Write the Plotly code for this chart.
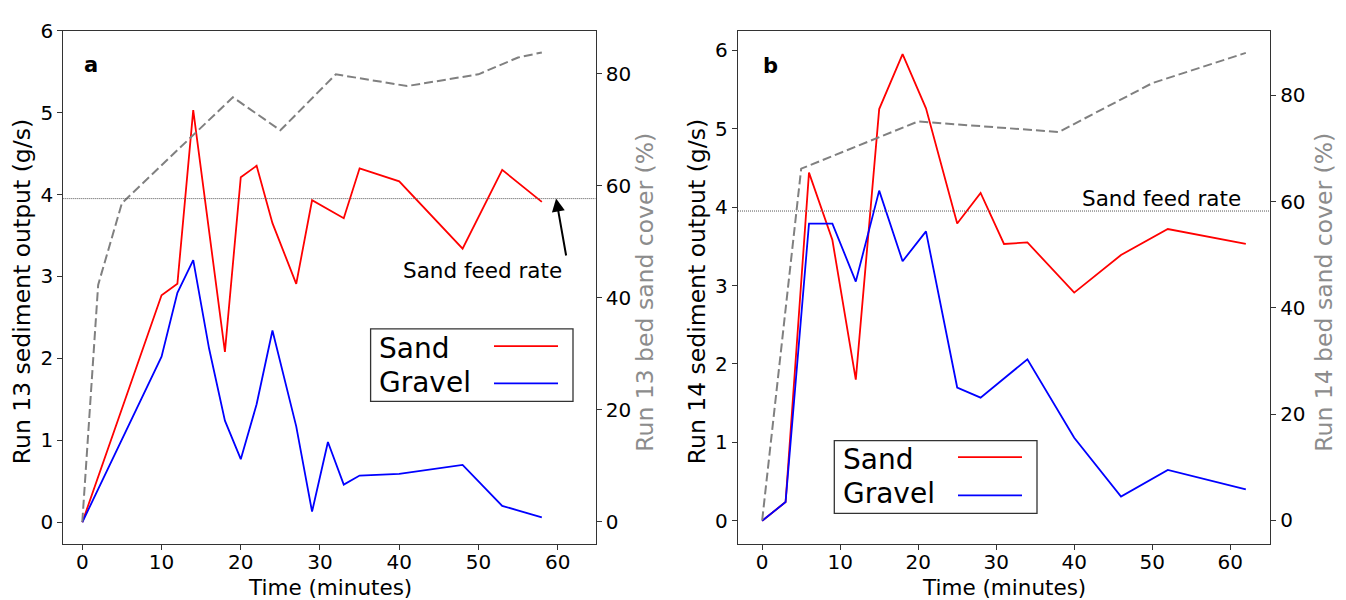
import plotly.graph_objects as go

# ---------------- Data: Run 13 (panel a) ----------------
t13 = [0, 10, 12, 14, 18, 20, 22, 24, 27, 29, 33, 35, 40, 48, 53, 58]
sand13 = [0, 2.77, 2.91, 5.03, 2.08, 4.21, 4.35, 3.65, 2.91, 3.93, 3.71, 4.32, 4.16, 3.34, 4.30, 3.91]
t13g = [0, 10, 12, 14, 16, 18, 20, 22, 24, 27, 29, 31, 33, 35, 40, 48, 53, 58]
gravel13 = [0, 2.02, 2.80, 3.20, 2.12, 1.24, 0.77, 1.44, 2.34, 1.17, 0.13, 0.98, 0.46, 0.57, 0.59, 0.70, 0.20, 0.06]
t13c = [0, 2, 5, 19, 25, 32, 41, 50, 55, 58]
cover13 = [0, 42.3, 56.9, 75.8, 69.9, 79.9, 77.8, 79.9, 82.9, 83.8]

# ---------------- Data: Run 14 (panel b) ----------------
t14 = [0, 3, 6, 9, 12, 15, 18, 21, 25, 28, 31, 34, 40, 46, 52, 62]
sand14 = [0, 0.24, 4.44, 3.58, 1.80, 5.25, 5.95, 5.26, 3.79, 4.18, 3.53, 3.55, 2.91, 3.39, 3.72, 3.53]
t14g = [0, 3, 6, 9, 12, 15, 18, 21, 25, 28, 34, 40, 46, 52, 62]
gravel14 = [0, 0.24, 3.79, 3.79, 3.05, 4.21, 3.31, 3.69, 1.70, 1.57, 2.06, 1.06, 0.31, 0.65, 0.40]
t14c = [0, 5, 20, 38, 50, 62]
cover14 = [0, 66.2, 75.1, 73.1, 82.3, 88.0]

feed_rate = 3.95
x_ticks = [0, 10, 20, 30, 40, 50, 60]
left_ticks = [0, 1, 2, 3, 4, 5, 6]
right_ticks = [0, 20, 40, 60, 80]

W, H = 1346, 600
FONT = "DejaVu Sans"
GREY = "#808080"
FRAME = "#333333"


def px(x):
    return x / W


def py(y):
    return 1 - y / H


dom_a = [px(63.3), px(595.7)]
dom_b = [px(738), px(1270)]
dom_y = [py(543), py(19)]

fig = go.Figure()

line_w = 1.8
# panel a
fig.add_trace(go.Scatter(x=t13, y=sand13, mode="lines", line=dict(color="red", width=line_w),
                         xaxis="x", yaxis="y", showlegend=False, name="Sand"))
fig.add_trace(go.Scatter(x=t13g, y=gravel13, mode="lines", line=dict(color="blue", width=line_w),
                         xaxis="x", yaxis="y", showlegend=False, name="Gravel"))
fig.add_trace(go.Scatter(x=t13c, y=cover13, mode="lines",
                         line=dict(color=GREY, width=2, dash="9px,4px"),
                         xaxis="x", yaxis="y2", showlegend=False, name="Bed sand cover"))
# panel b
fig.add_trace(go.Scatter(x=t14, y=sand14, mode="lines", line=dict(color="red", width=line_w),
                         xaxis="x2", yaxis="y3", showlegend=False, name="Sand"))
fig.add_trace(go.Scatter(x=t14g, y=gravel14, mode="lines", line=dict(color="blue", width=line_w),
                         xaxis="x2", yaxis="y3", showlegend=False, name="Gravel"))
fig.add_trace(go.Scatter(x=t14c, y=cover14, mode="lines",
                         line=dict(color=GREY, width=2, dash="9px,4px"),
                         xaxis="x2", yaxis="y4", showlegend=False, name="Bed sand cover"))

tickfont = dict(family=FONT, size=20, color="black")
common_x = dict(tickvals=x_ticks, ticks="outside", ticklen=5, tickcolor=FRAME, showgrid=False,
                zeroline=False, showline=True, linecolor=FRAME, linewidth=1.3, mirror=True,
                tickfont=tickfont, ticklabelstandoff=-5)
common_y = dict(ticks="outside", ticklen=5, tickcolor=FRAME, showgrid=False, zeroline=False,
                showline=True, linecolor=FRAME, linewidth=1.3, tickfont=tickfont)

fig.update_layout(
    width=W, height=H,
    margin=dict(l=0, r=0, t=0, b=0),
    paper_bgcolor="white", plot_bgcolor="white",
    font=dict(family=FONT, color="black"),
    xaxis=dict(domain=dom_a, range=[-2.4, 64.8], anchor="y", **common_x),
    yaxis=dict(domain=dom_y, range=[-0.267, 6.0], tickvals=left_ticks, anchor="x", side="left",
               mirror=True, **common_y),
    yaxis2=dict(range=[-4.0, 87.7], tickvals=right_ticks, overlaying="y", anchor="x", side="right",
                **common_y),
    xaxis2=dict(domain=dom_b, range=[-3.1, 65.1], anchor="y3", **common_x),
    yaxis3=dict(domain=dom_y, range=[-0.297, 6.25], tickvals=left_ticks, anchor="x2", side="left",
                mirror=True, **common_y),
    yaxis4=dict(range=[-4.5, 92.2], tickvals=right_ticks, overlaying="y3", anchor="x2", side="right",
                **common_y),
)

# sand feed rate lines
for xr, yr in (("x", "y"), ("x2", "y3")):
    fig.add_shape(type="line", xref=f"{xr} domain", yref=yr, x0=0, x1=1, y0=feed_rate, y1=feed_rate,
                  line=dict(color="#555555", width=1, dash="1px,1px"), layer="above")

ann = []
# axis titles
title_font_h = dict(family=FONT, size=21.5, color="black")
title_font_v = dict(family=FONT, size=23.5, color="black")
title_font_v_grey = dict(family=FONT, size=23.5, color="#8c8c8c")
ann.append(dict(text="Time (minutes)", x=px(329.5), y=py(587.5), font=title_font_h))
ann.append(dict(text="Time (minutes)", x=px(1004), y=py(587.5), font=title_font_h))
ann.append(dict(text="Run 13 sediment output (g/s)", x=px(22), y=py(286), textangle=-90, font=title_font_v))
ann.append(dict(text="Run 13 bed sand cover (%)", x=px(645.5), y=py(286), textangle=-90, font=title_font_v_grey))
ann.append(dict(text="Run 14 sediment output (g/s)", x=px(697), y=py(286), textangle=-90, font=title_font_v))
ann.append(dict(text="Run 14 bed sand cover (%)", x=px(1324.5), y=py(286), textangle=-90, font=title_font_v_grey))
# panel letters
ann.append(dict(text="<b>a</b>", x=px(90.7), y=py(53.7), font=dict(family=FONT, size=21, color="black")))
ann.append(dict(text="<b>b</b>", x=px(770), y=py(55), font=dict(family=FONT, size=21, color="black")))
# sand feed rate labels
ann.append(dict(text="Sand feed rate", x=px(482.4), y=py(263.3), font=dict(family=FONT, size=21.5, color="black")))
ann.append(dict(text="Sand feed rate", x=px(1243.2), y=py(190), xanchor="right",
                font=dict(family=FONT, size=21.5, color="black")))

for a in ann:
    a.setdefault("xref", "paper")
    a.setdefault("yref", "paper")
    a.setdefault("xanchor", "center")
    a.setdefault("yanchor", "middle")
    a["showarrow"] = False
    fig.add_annotation(**a)

# arrow in panel a pointing at the feed rate line
fig.add_annotation(x=59.8, y=feed_rate, xref="x", yref="y", text="", showarrow=True,
                   ax=10.3, ay=58.4, axref="pixel", ayref="pixel",
                   arrowhead=2, arrowsize=1.3, arrowwidth=2, arrowcolor="black")

# manual legends (text left, line sample right, like the original)
def add_legend(box, text_x, sand_y, grav_y, line_x0, line_x1, sand_ly, grav_ly):
    fig.add_shape(type="rect", xref="paper", yref="paper",
                  x0=px(box[0]), x1=px(box[1]), y0=py(box[3]), y1=py(box[2]),
                  line=dict(color=FRAME, width=1.3), fillcolor="white", layer="above")
    for label, yy in (("Sand", sand_y), ("Gravel", grav_y)):
        fig.add_annotation(text=label, x=px(text_x), y=py(yy), xref="paper", yref="paper",
                           xanchor="left", yanchor="middle", showarrow=False,
                           font=dict(family=FONT, size=28, color="black"))
    for col, ly in (("red", sand_ly), ("blue", grav_ly)):
        fig.add_shape(type="line", xref="paper", yref="paper", x0=px(line_x0), x1=px(line_x1),
                      y0=py(ly), y1=py(ly), line=dict(color=col, width=1.8), layer="above")


add_legend((370.6, 573, 323.3, 397.3), 377, 343.3, 378.3, 494, 558, 341, 379)
add_legend((834.3, 1037, 437.3, 511.7), 841, 456.7, 491.7, 958, 1022, 454.3, 493.3)

fig.write_html(
    "out.html",
    config={"displayModeBar": False},
    post_script="document.body.style.margin='0';document.body.style.padding='0';"
                "document.body.style.overflow='hidden';",
)
